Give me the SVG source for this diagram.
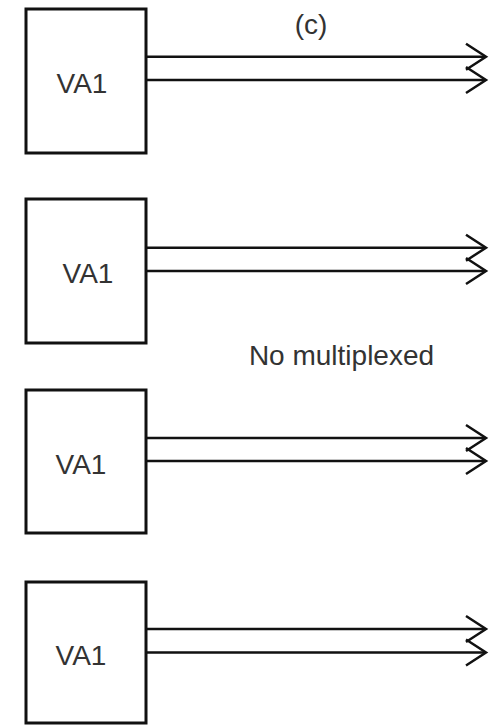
<svg xmlns="http://www.w3.org/2000/svg" width="491" height="725" viewBox="0 0 491 725">
<style>
.box{fill:#fff;stroke:#111;stroke-width:3}
.lbl{font-family:"Liberation Sans",Arial,sans-serif;font-size:28px;fill:#333;text-anchor:middle}
.ln{stroke:#111;stroke-width:2.5;fill:none}
.hd{stroke:#111;stroke-width:2.5;fill:none;stroke-linejoin:miter}
</style>
<rect width="491" height="725" fill="#fff"/>
<g id="connectors">
<path class="ln" d="M146 56.7H485M146 80H485"/>
<path class="hd" d="M466 43.7L486 56.7L466 69.7M466 67L486 80L466 93"/>
<path class="ln" d="M146 247.7H485M146 271H485"/>
<path class="hd" d="M466 234.7L486 247.7L466 260.7M466 258L486 271L466 284"/>
<path class="ln" d="M146 438H485M146 461H485"/>
<path class="hd" d="M466 425L486 438L466 451M466 448L486 461L466 474"/>
<path class="ln" d="M146 629H485M146 652.5H485"/>
<path class="hd" d="M466 616L486 629L466 642M466 639.5L486 652.5L466 665.5"/>
</g>
<g id="node1"><rect class="box" x="26" y="9" width="120" height="144"/><text class="lbl" x="82" y="93">VA1</text></g>
<g id="node2"><rect class="box" x="26" y="199" width="120" height="144"/><text class="lbl" x="88" y="283">VA1</text></g>
<g id="node3"><rect class="box" x="26" y="390" width="120" height="143"/><text class="lbl" x="81" y="474">VA1</text></g>
<g id="node4"><rect class="box" x="26" y="582" width="120" height="141"/><text class="lbl" x="81" y="665">VA1</text></g>
<text class="lbl" x="311" y="34">(c)</text>
<text class="lbl" x="341.5" y="365">No multiplexed</text>
</svg>
